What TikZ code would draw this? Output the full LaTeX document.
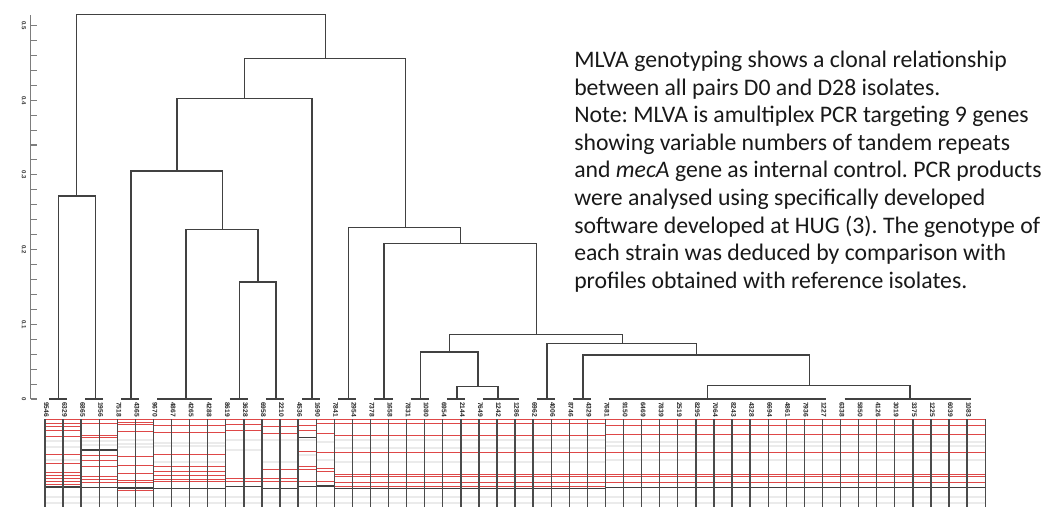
\documentclass[tikz,border=0pt]{standalone}
\usepackage{fontspec}
\newfontfamily\calib{Carlito}
\newfontfamily\labfont{Liberation Sans}
\definecolor{gelred}{RGB}{222,72,72}
\definecolor{treegray}{RGB}{65,65,65}
\definecolor{axisgray}{RGB}{125,125,125}
\definecolor{lanegray}{RGB}{75,75,75}
\newcommand\gellane[4]{%
  \pgfmathsetmacro\xl{45+18.08*(#1-1)+0.6}%
  \pgfmathsetmacro\xr{45+18.08*#1-0.6}%
  \foreach \yy in {#4} {\draw[gelgray] (\xl,\yy) -- (\xr,\yy);}%
  \foreach \yy in {#2} {\draw[gelredl] (\xl,\yy) -- (\xr,\yy);}%
  \foreach \yy in {#3} {\draw[gelblack] (\xl,\yy) -- (\xr,\yy);}%
}
\frenchspacing
\begin{document}
\begin{tikzpicture}[x=0.75pt,y=-0.75pt,
  tree/.style={draw=treegray,line width=1.0pt,line join=miter},
  axisline/.style={draw=axisgray,line width=1.1pt},
  tickline/.style={draw=axisgray,line width=0.8pt},
  leaflab/.style={font=\labfont\bfseries\fontsize{5}{5}\selectfont,inner sep=0pt,anchor=west,rotate=-90,text=black!85},
  axlab/.style={font=\labfont\bfseries\fontsize{4.5}{4.5}\selectfont,inner sep=0pt,rotate=-90,text=black!80},
  txt/.style={font=\calib\fontsize{17.8}{21}\selectfont,inner sep=0pt,anchor=base west,text=black!90},
  gelredl/.style={draw=gelred,line width=0.75pt},
  gelblack/.style={draw=black!75,line width=0.9pt},
  gelgray/.style={draw=black!8,line width=1.8pt},
  lane/.style={draw=lanegray,line width=1.0pt}]
\useasboundingbox (0,0) rectangle (1047,507);
\fill[white] (0,0) rectangle (1047,507);

% ---------- axis ----------
\coordinate (ax0) at (30.7,399);
\coordinate (ax1) at (30.7,15);
\draw[axisline] (ax0) -- (ax1);
\foreach \k in {0,...,25} {\draw[tickline] (30.7,{399-14.94*\k}) -- (36.5,{399-14.94*\k});}
\foreach \v/\t in {0/0,1/0.1,2/0.2,3/0.3,4/0.4,5/0.5} {\node[axlab] (ax\v) at (24,{399-74.7*\v}) {\t};}

% ---------- leaves ----------
\foreach \i in {1,...,52} {\coordinate (L\i) at ({49+18.08*(\i-1)},399);}
\foreach \lab [count=\i] in {9546,6329,6865,1956,7518,4365,9670,4867,4265,4288,8619,3628,6958,2210,4536,1690,7841,2954,7378,1658,7831,1080,6954,2144,7649,1242,1286,6962,4006,8746,4329,7681,9150,6469,7839,2519,8295,7064,8243,4328,6694,4861,7936,1227,6338,5850,4126,3019,3375,1225,6039,1083}
  {\node[leaflab] (lab\i) at ({46.5+18.08*(\i-1)},402) {\lab};}

% cluster bars at zero distance
\foreach \a/\b in {1/2,3/4,5/6,7/10,11/12,13/14,15/16,17/18,19/20,21/22,23/24,25/27,28/29,30/31,32/44,45/52}
  {\draw[tree] (L\a) -- (L\b);}

% cluster stems
\coordinate (c1) at (58.3,399);
\coordinate (c2) at (95.3,399);
\coordinate (c3) at (131,399);
\coordinate (c4) at (186,399);
\coordinate (c5) at (239.5,399);
\coordinate (c6) at (276,399);
\coordinate (c7) at (312,399);
\coordinate (c8) at (348.5,399);
\coordinate (c9) at (384,399);
\coordinate (c10) at (420.5,399);
\coordinate (c11) at (457,399);
\coordinate (c12) at (498,399);
\coordinate (c13) at (547,399);
\coordinate (c14) at (583,399);
\coordinate (c15) at (707.5,399);
\coordinate (c16) at (910,399);

% internal nodes
\coordinate (na) at (76.8,196);
\coordinate (nb) at (258,282);
\coordinate (nc) at (222.3,229.3);
\coordinate (nd) at (177,171);
\coordinate (ne) at (244.7,98.3);
\coordinate (nf) at (478,386.7);
\coordinate (ng) at (449.7,352);
\coordinate (nh) at (809.3,385.7);
\coordinate (ni) at (696.7,355);
\coordinate (nj) at (622.3,343.7);
\coordinate (nk) at (536.7,334.3);
\coordinate (nl) at (460.7,243.3);
\coordinate (nm) at (405.7,227.3);
\coordinate (nn) at (325.3,58.3);
\coordinate (root) at (201,14.3);

\draw[tree] (c1) |- (na) -| (c2);
\draw[tree] (c5) |- (nb) -| (c6);
\draw[tree] (c4) |- (nc) -| (nb);
\draw[tree] (c3) |- (nd) -| (nc);
\draw[tree] (nd) |- (ne) -| (c7);
\draw[tree] (c11) |- (nf) -| (c12);
\draw[tree] (c10) |- (ng) -| (nf);
\draw[tree] (c15) |- (nh) -| (c16);
\draw[tree] (c14) |- (ni) -| (nh);
\draw[tree] (c13) |- (nj) -| (ni);
\draw[tree] (ng) |- (nk) -| (nj);
\draw[tree] (c9) |- (nl) -| (nk);
\draw[tree] (c8) |- (nm) -| (nl);
\draw[tree] (ne) |- (nn) -| (nm);
\draw[tree] (na) |- (root) -| (nn);

% ---------- gel strip ----------
\fill[white] (45,419) rectangle (985,507);
\foreach \ln in {1,...,52} {\gellane{\ln}{}{}{497,503}}
\foreach \ln in {1,2} {\gellane{\ln}{419.5,423,426,430,436,454,463,472,475,478,481,484}{487}{441,447,460}}
\foreach \ln in {3,4} {\gellane{\ln}{419.5,423,435,437.5,455,460,466,476,479,482}{450,487.5}{441,445}}
\foreach \ln in {5,6} {\gellane{\ln}{419.5,422,424,431,456,465,473,480,482.5,490}{488}{440,444,447}}
\foreach \ln in {7,...,10} {\gellane{\ln}{419.5,425,432.5,454.5,466.5,471.5,475,479.5,481.5}{488.5}{443,446,462}}
\foreach \ln in {11,12} {\gellane{\ln}{419.5,424.3,430,478.5,481}{486.7}{440,450}}
\foreach \ln in {13,14} {\gellane{\ln}{419.5,426.7,433,469,478,481.7}{488.3}{440,462}}
\gellane{15}{419.5,425,430,451,466,469,481.7}{437.7,486.7}{440,455}
\gellane{16}{419.5,423,433,452.7,468,471.5,481.7}{486}{442,460}
\foreach \ln in {17,...,31} {\gellane{\ln}{419.5,423.3,435,452.7,474.3,476.7,482.7,486}{488.3}{440,448,461.7}}
\foreach \ln in {32,...,52} {\gellane{\ln}{419.5,425,434.3,452.3,474.3,476.7,482.7}{487.7}{441.7,446,460}}
\foreach \k in {0,...,52} {\draw[lane] ({45+18.08*\k},419) -- ({45+18.08*\k},507);}

% ---------- text ----------
\node[txt] (t1) at (574,67.5) {MLVA genotyping shows a clonal relationship};
\node[txt] (t2) at (574,95.1) {between all pairs D0 and D28 isolates.};
\node[txt] (t3) at (574,122.7) {Note: MLVA is amultiplex PCR targeting 9 genes};
\node[txt] (t4) at (574,150.3) {showing variable numbers of tandem repeats};
\node[txt] (t5) at (574,177.9) {and \textit{mecA} gene as internal control. PCR products};
\node[txt] (t6) at (574,205.5) {were analysed using specifically developed};
\node[txt] (t7) at (574,233.1) {software developed at HUG (3). The genotype of};
\node[txt] (t8) at (574,260.7) {each strain was deduced by comparison with};
\node[txt] (t9) at (574,288.3) {profiles obtained with reference isolates.};
\end{tikzpicture}
\end{document}
